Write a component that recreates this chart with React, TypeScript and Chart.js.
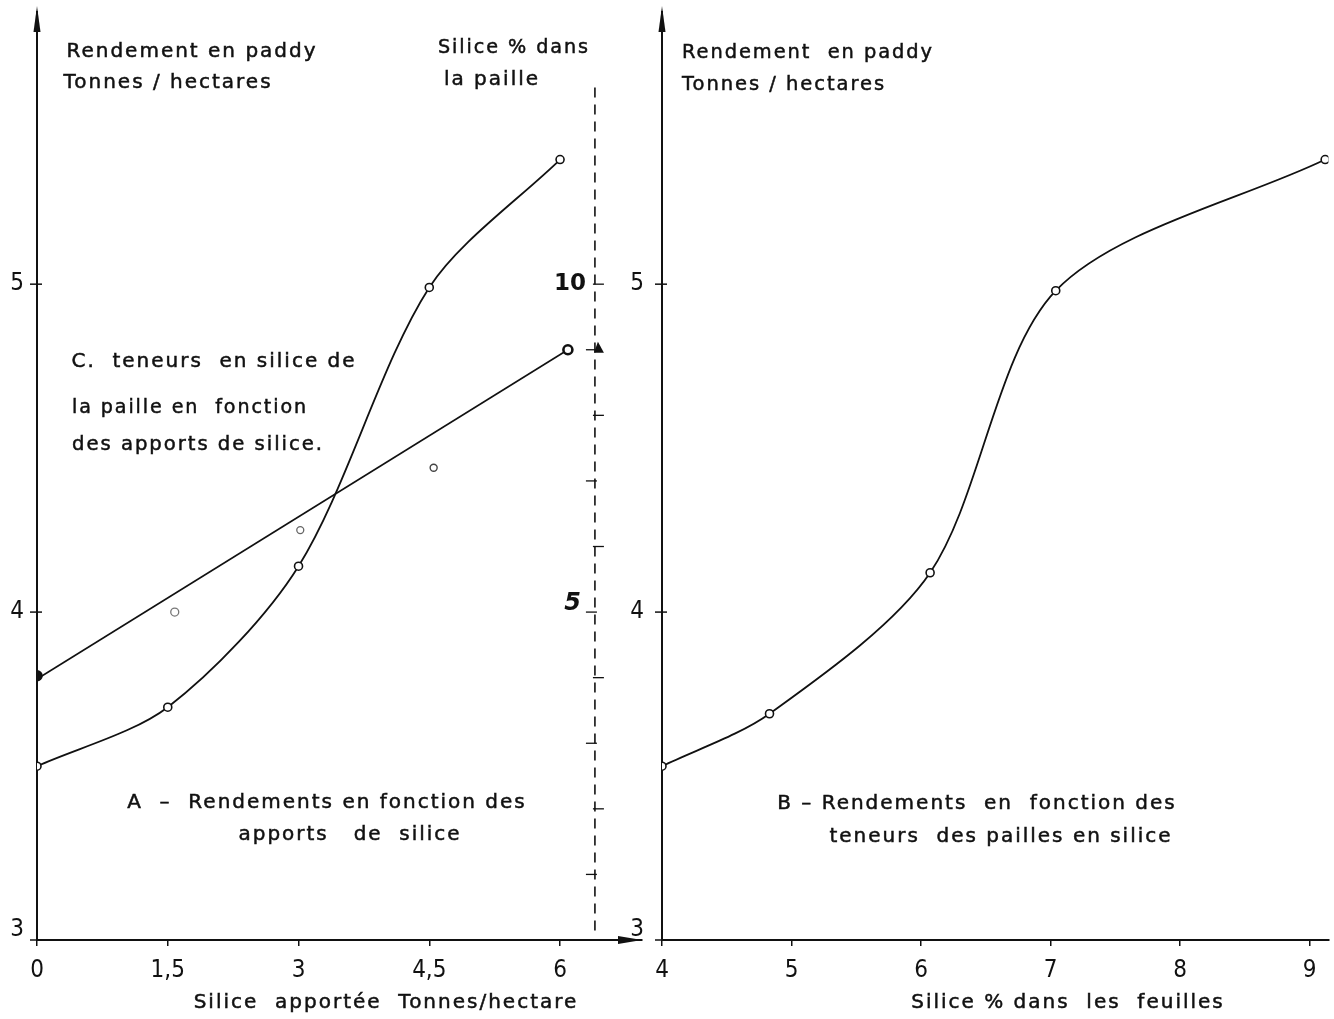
import React, { useEffect, useRef } from "react";
import { Chart, registerables } from "chart.js";

Chart.register(...registerables);

// ---------- data ----------
const xTicksA = [0, 1.5, 3, 4.5, 6];
const xTicksB = [4, 5, 6, 7, 8, 9];
const yTicks = [3, 4, 5];
const silicaAxisTicks = [1, 2, 3, 4, 5, 6, 7, 8, 9, 10];
const silicaAxisLabels = [5, 10];

// A – yield vs applied silica
const appliedSilica = [0, 1.5, 3, 4.5, 6];
const yieldA = [3.53, 3.71, 4.14, 4.99, 5.38];

// C – straw silica % vs applied silica (right dashed axis)
const strawX = [0, 1.58, 3.02, 4.55, 6.09];
const strawSilica = [4.03, 5.0, 6.25, 7.2, 9.0];
const fitX = [0, 6.09];
const fitY = [3.98, 9.0];

// B – yield vs leaf silica %
const leafSilica = [4, 4.83, 6.07, 7.04, 9.12];
const yieldB = [3.53, 3.69, 4.12, 4.98, 5.38];

// ---------- texts ----------
const leftTexts = [
  "Rendement en paddy",
  "Tonnes / hectares",
  "Silice % dans",
  "la paille",
  "C.  teneurs  en silice de",
  "la paille en  fonction",
  "des apports de silice.",
  "A  –  Rendements en fonction des",
  "apports   de  silice",
  "Silice  apportée  Tonnes/hectare",
];
const rightTexts = [
  "Rendement  en paddy",
  "Tonnes / hectares",
  "B – Rendements  en  fonction des",
  "teneurs  des pailles en silice",
  "Silice % dans  les  feuilles",
];

// layout of the texts (page coords: center x, center y, max width)
const leftTextPos = [
  [192, 52, 260], [168, 83, 214], [514, 48, 152], [492, 80, 105], [214, 362, 285],
  [190, 408, 236], [198, 445, 252], [327, 803, 405], [350, 835, 223], [386, 1003, 393],
];
const rightTextPos = [
  [808, 53, 252], [784, 85, 204], [977, 804, 411], [1001, 837, 343], [1068, 1003, 327],
];

const INK = "#111";
const TICK_FAMILY = '"Liberation Sans Narrow", "DejaVu Sans Condensed", "Liberation Sans", sans-serif';
const TICK_FONT = { family: TICK_FAMILY, size: 24 };
const TEXT_FONT = '20px "DejaVu Sans", sans-serif';

function drawTexts(ctx: CanvasRenderingContext2D, texts: string[], pos: number[][], offX: number) {
  ctx.save();
  ctx.fillStyle = INK;
  ctx.strokeStyle = INK;
  ctx.lineWidth = 0.5;
  ctx.font = TEXT_FONT;
  (ctx as any).letterSpacing = "2px";
  ctx.textAlign = "center";
  ctx.textBaseline = "middle";
  texts.forEach((t, i) => {
    const [cx, cy, w] = pos[i];
    ctx.fillText(t, cx - offX, cy, w);
    ctx.strokeText(t, cx - offX, cy, w);
  });
  ctx.restore();
}

function arrowUp(ctx: CanvasRenderingContext2D, x: number, yTip: number) {
  ctx.beginPath();
  ctx.moveTo(x, yTip);
  ctx.lineTo(x - 3.5, yTip + 26);
  ctx.lineTo(x + 3.5, yTip + 26);
  ctx.closePath();
  ctx.fill();
}

function drawYLabels(ctx: CanvasRenderingContext2D, chart: any, gap: number) {
  const ys = chart.scales.y;
  const ax = chart.chartArea.left;
  ctx.save();
  ctx.fillStyle = INK;
  ctx.strokeStyle = INK;
  ctx.lineWidth = 1.5;
  ctx.font = `24px ${TICK_FAMILY}`;
  ctx.textAlign = "right";
  ctx.textBaseline = "middle";
  yTicks.forEach((v) => {
    const py = ys.getPixelForValue(v);
    ctx.beginPath();
    ctx.moveTo(ax - 7, py);
    ctx.lineTo(ax + 5, py);
    ctx.stroke();
    ctx.fillText(String(v), ax - gap, v === yTicks[0] ? py - 10 : py);
  });
  ctx.restore();
}

function makeLeftPlugin() {
  return {
    id: "leftDecor",
    afterDraw(chart: any) {
      const ctx: CanvasRenderingContext2D = chart.ctx;
      const { left, right, bottom } = chart.chartArea;
      const xs = chart.scales.x;
      const y2 = chart.scales.y2;
      ctx.save();
      ctx.fillStyle = INK;
      ctx.strokeStyle = INK;
      // y axis arrow
      arrowUp(ctx, left, 6);
      // x axis arrow
      ctx.beginPath();
      ctx.moveTo(right, bottom);
      ctx.lineTo(right - 24, bottom - 4);
      ctx.lineTo(right - 24, bottom + 4);
      ctx.closePath();
      ctx.fill();
      // dashed silica axis
      const ax = xs.getPixelForValue(6.4);
      ctx.lineWidth = 1.6;
      ctx.setLineDash([10, 7]);
      ctx.beginPath();
      ctx.moveTo(ax, y2.getPixelForValue(13));
      ctx.lineTo(ax, bottom - 4);
      ctx.stroke();
      ctx.setLineDash([]);
      ctx.lineWidth = 1.3;
      silicaAxisTicks.forEach((v, i) => {
        const py = y2.getPixelForValue(v);
        ctx.beginPath();
        if (i % 2 === 0) {
          ctx.moveTo(ax - 9, py);
          ctx.lineTo(ax + 2, py);
        } else {
          ctx.moveTo(ax - 2, py);
          ctx.lineTo(ax + 9, py);
        }
        ctx.stroke();
      });
      // small arrow mark at the end of line C
      const pEnd = y2.getPixelForValue(fitY[1]);
      ctx.beginPath();
      ctx.moveTo(ax + 3, pEnd - 8);
      ctx.lineTo(ax - 1, pEnd + 3);
      ctx.lineTo(ax + 9, pEnd + 3);
      ctx.closePath();
      ctx.fill();
      ctx.textAlign = "right";
      ctx.textBaseline = "middle";
      silicaAxisLabels.forEach((v) => {
        const py = y2.getPixelForValue(v);
        if (v === 10) {
          ctx.font = 'bold 23px "DejaVu Sans", sans-serif';
          ctx.fillText(String(v), ax - 9, py);
        } else {
          ctx.font = 'italic bold 24px "DejaVu Sans", sans-serif';
          ctx.fillText(String(v), ax - 14, py - 8);
        }
      });
      ctx.restore();
      drawYLabels(ctx, chart, 13);
      drawTexts(ctx, leftTexts, leftTextPos, 0);
    },
  };
}

function makeRightPlugin(offX: number) {
  return {
    id: "rightDecor",
    afterDraw(chart: any) {
      const ctx: CanvasRenderingContext2D = chart.ctx;
      const { left } = chart.chartArea;
      ctx.save();
      ctx.fillStyle = INK;
      arrowUp(ctx, left, 6);
      ctx.restore();
      drawYLabels(ctx, chart, 18);
      drawTexts(ctx, rightTexts, rightTextPos, offX);
    },
  };
}

function xScale(min: number, max: number, ticks: number[]) {
  return {
    type: "linear" as const,
    min,
    max,
    afterBuildTicks: (s: any) => {
      s.ticks = ticks.map((v) => ({ value: v }));
    },
    afterFit: (s: any) => {
      s.height = 79;
    },
    ticks: {
      autoSkip: false,
      maxRotation: 0,
      padding: 10,
      color: INK,
      font: TICK_FONT,
      callback: (v: any) => String(v).replace(".", ","),
    },
    grid: { display: true, drawOnChartArea: false, drawTicks: true, tickLength: 6, color: INK, lineWidth: 1.5 },
    border: { display: true, color: INK, width: 2 },
  };
}

function yScale(width: number) {
  return {
    type: "linear" as const,
    min: 3,
    max: 5.83,
    afterBuildTicks: (s: any) => {
      s.ticks = yTicks.map((v) => ({ value: v }));
    },
    afterFit: (s: any) => {
      s.width = width;
    },
    ticks: { display: false },
    grid: { display: false },
    border: { display: true, color: INK, width: 2 },
  };
}

const curveStyle = {
  borderColor: INK,
  borderWidth: 1.8,
  pointRadius: 4,
  pointBackgroundColor: "#fff",
  pointBorderColor: INK,
  pointBorderWidth: 1.6,
  tension: 0.3,
  fill: false,
};

export default function App() {
  const leftRef = useRef<HTMLCanvasElement>(null);
  const rightRef = useRef<HTMLCanvasElement>(null);

  useEffect(() => {
    const left = new Chart(leftRef.current as HTMLCanvasElement, {
      type: "line",
      data: {
        datasets: [
          {
            label: "A",
            data: appliedSilica.map((x, i) => ({ x, y: yieldA[i] })),
            yAxisID: "y",
            order: 1,
            ...curveStyle,
          } as any,
          {
            label: "C droite",
            data: fitX.map((x, i) => ({ x, y: fitY[i] })),
            yAxisID: "y2",
            borderColor: INK,
            borderWidth: 1.6,
            pointRadius: 0,
            fill: false,
            order: 3,
          },
          {
            label: "C",
            type: "scatter",
            data: strawX.map((x, i) => ({ x, y: strawSilica[i] })),
            yAxisID: "y2",
            showLine: false,
            pointRadius: [5, 4, 3.5, 3.5, 4.5],
            pointBackgroundColor: [INK, "#fff", "#fff", "#fff", "#fff"],
            pointBorderColor: [INK, "#777", "#666", "#444", INK],
            pointBorderWidth: [1.5, 1.3, 1.3, 1.4, 2.6],
            order: 2,
          } as any,
        ],
      },
      options: {
        animation: false,
        responsive: false,
        maintainAspectRatio: false,
        layout: { padding: { top: 12, right: 18, left: 0, bottom: 0 } },
        plugins: { legend: { display: false }, tooltip: { enabled: false } },
        scales: {
          x: xScale(0, 6.94, xTicksA),
          y: yScale(37),
          y2: { type: "linear", display: false, min: 0, max: 14.15 },
        },
      } as any,
      plugins: [makeLeftPlugin()],
    });

    const right = new Chart(rightRef.current as HTMLCanvasElement, {
      type: "line",
      data: {
        datasets: [
          {
            label: "B",
            data: leafSilica.map((x, i) => ({ x, y: yieldB[i] })),
            yAxisID: "y",
            ...curveStyle,
          } as any,
        ],
      },
      options: {
        animation: false,
        responsive: false,
        maintainAspectRatio: false,
        layout: { padding: { top: 12, right: 0, left: 0, bottom: 0 } },
        plugins: { legend: { display: false }, tooltip: { enabled: false } },
        scales: {
          x: xScale(4, 9.145, xTicksB),
          y: yScale(42),
        },
      } as any,
      plugins: [makeRightPlugin(620)],
    });

    return () => {
      left.destroy();
      right.destroy();
    };
  }, []);

  return (
    <div
      style={{
        position: "absolute",
        left: 0,
        top: 0,
        width: 1334,
        height: 1019,
        background: "#fff",
        overflow: "hidden",
      }}
    >
      <canvas ref={leftRef} width={660} height={1019} style={{ position: "absolute", left: 0, top: 0 }} />
      <canvas ref={rightRef} width={714} height={1019} style={{ position: "absolute", left: 620, top: 0 }} />
    </div>
  );
}
